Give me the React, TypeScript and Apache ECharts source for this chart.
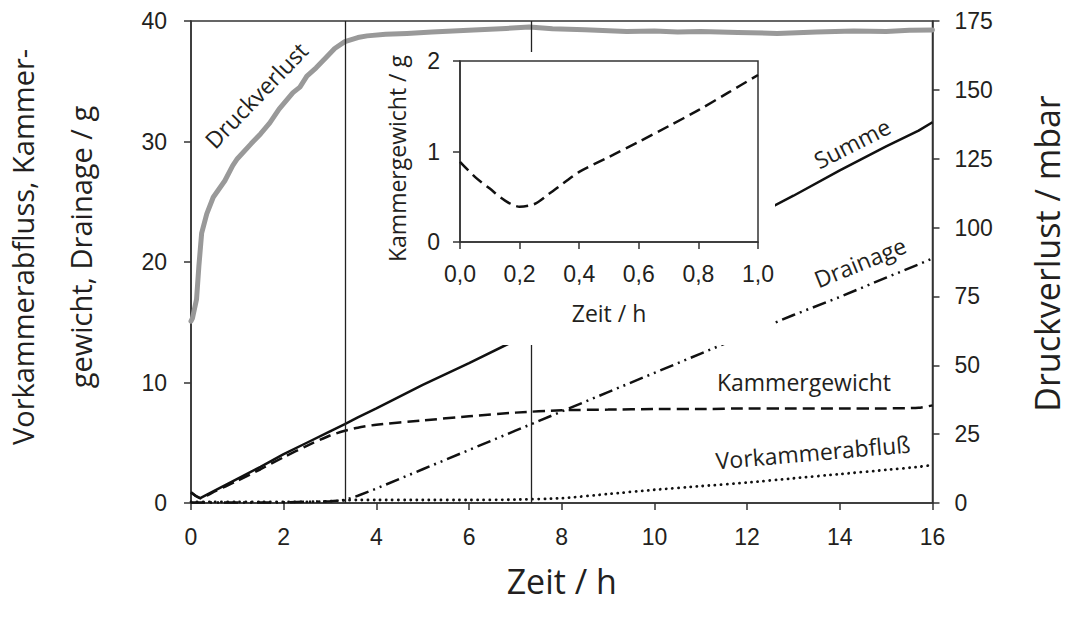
import React, { useEffect, useRef } from "react";
import * as echarts from "echarts";

// ---- data (main chart) ----
const timeMain = [0, 0.1, 0.2, 0.5, 1, 1.5, 2, 2.5, 3, 3.32, 3.6, 4, 5, 6, 7, 8, 9, 10, 11, 12, 13, 14, 15, 15.7, 16];
const summe = [0.9, 0.6, 0.4, 1.0, 2.0, 3.0, 4.05, 5.0, 5.95, 6.55, 7.1, 7.85, 9.8, 11.6, 13.5, 15.5, 17.5, 19.5, 21.5, 23.5, 25.5, 27.6, 29.6, 30.9, 31.6];
const kammergewicht = [0.88, 0.59, 0.39, 0.94, 1.84, 2.8, 3.8, 4.75, 5.6, 6.0, 6.25, 6.5, 6.85, 7.2, 7.5, 7.7, 7.75, 7.8, 7.8, 7.85, 7.85, 7.85, 7.85, 7.9, 8.1];
const drainage = [0.05, 0.05, 0.05, 0.05, 0.05, 0.05, 0.05, 0.1, 0.15, 0.25, 0.6, 1.2, 2.8, 4.4, 6.0, 7.6, 9.2, 10.8, 12.4, 14.0, 15.6, 17.1, 18.7, 19.8, 20.3];
const vorkammerabfluss = [0.1, 0.1, 0.1, 0.1, 0.1, 0.1, 0.1, 0.1, 0.15, 0.22, 0.25, 0.25, 0.25, 0.25, 0.28, 0.4, 0.75, 1.1, 1.4, 1.7, 2.05, 2.4, 2.75, 3.0, 3.15];

const timeDruck = [0, 0.03, 0.12, 0.17, 0.23, 0.34, 0.48, 0.73, 0.9, 1.0, 1.3, 1.5, 1.7, 1.9, 2.05, 2.2, 2.35, 2.5, 2.7, 2.93, 3.1, 3.32, 3.6, 3.8, 4.2, 4.66, 5.2, 6.1, 6.8, 7.3, 7.8, 8.5, 9.4, 10, 10.5, 11, 11.8, 12.65, 13.5, 14.3, 15, 15.5, 16];
const druckverlust = [66, 67, 74, 86, 98, 105, 111, 117, 122.5, 125, 130.5, 134, 138, 143, 146, 149, 151, 155, 158, 162, 165, 167.5, 169, 169.6, 170.2, 170.5, 171, 171.7, 172.3, 172.8, 172.2, 171.8, 171.2, 171.4, 171.0, 171.2, 170.8, 170.5, 171, 171.4, 171.2, 171.6, 171.7];

const markerTimes = [3.32, 7.35];

// ---- data (inset) ----
const timeInset = [0, 0.05, 0.1, 0.15, 0.2, 0.25, 0.3, 0.35, 0.4, 0.5, 0.6, 0.7, 0.8, 0.9, 1.0];
const kammerInset = [0.886, 0.72, 0.59, 0.46, 0.39, 0.42, 0.535, 0.657, 0.775, 0.94, 1.107, 1.28, 1.457, 1.65, 1.845];

const pairs = (xs: number[], ys: number[]) => xs.map((x, i) => [x, ys[i]]);

const TICK_FONT = "'Liberation Sans', Arial, sans-serif";
const TEXT_FONT = "'Open Sans', 'Noto Sans', sans-serif";
const AX = "#333";
const INK = "#231f20";

export default function App() {
  const ref = useRef<HTMLDivElement>(null);
  useEffect(() => {
    if (!ref.current) return;
    const chart = echarts.init(ref.current, undefined, { renderer: "svg" });
    const axisCommon = {
      axisLine: { show: true, lineStyle: { color: AX, width: 1.5 } },
      axisTick: { show: true, inside: false, length: 7, lineStyle: { color: AX, width: 1.5 } },
      splitLine: { show: false },
    };
    const option: any = {
      animation: false,
      backgroundColor: "#fff",
      grid: [
        { left: 191, top: 21, width: 741.5, height: 482, show: true, borderColor: AX, borderWidth: 1.5, backgroundColor: "transparent", containLabel: false, outerBoundsMode: "none" },
        { left: 460, top: 61, width: 298, height: 181, show: true, borderColor: AX, borderWidth: 1.5, backgroundColor: "#fff", zlevel: 1, z: 1, containLabel: false, outerBoundsMode: "none" },
      ],
      xAxis: [
        {
          ...axisCommon,
          type: "value", gridIndex: 0, min: 0, max: 16, interval: 2,
          axisLabel: { fontFamily: TICK_FONT, fontSize: 23, color: INK, margin: 22 },
          name: "Zeit / h", nameLocation: "middle", nameGap: 56,
          nameTextStyle: { fontFamily: TEXT_FONT, fontSize: 34, color: INK, lineHeight: 44 },
        },
        {
          ...axisCommon,
          type: "value", gridIndex: 1, min: 0, max: 1, interval: 0.2, zlevel: 1, z: 2,
          axisLabel: { fontFamily: TICK_FONT, fontSize: 23, color: INK, margin: 20, formatter: (v: number) => v.toFixed(1).replace(".", ",") },
          name: "Zeit / h", nameLocation: "middle", nameGap: 56,
          nameTextStyle: { fontFamily: TEXT_FONT, fontSize: 23, color: INK, lineHeight: 30 },
        },
      ],
      yAxis: [
        {
          ...axisCommon,
          type: "value", gridIndex: 0, position: "left", min: 0, max: 40, interval: 10,
          axisLabel: { fontFamily: TICK_FONT, fontSize: 23, color: INK, margin: 24 },
          name: "Vorkammerabfluss, Kammer-\ngewicht, Drainage / g", nameLocation: "middle", nameRotate: 90, nameGap: 82,
          nameTextStyle: { fontFamily: TEXT_FONT, fontSize: 29, color: INK, lineHeight: 58, padding: [0, 0, 0, 30] },
        },
        {
          ...axisCommon,
          type: "value", gridIndex: 0, position: "right", min: 0, max: 175, interval: 25,
          axisLabel: { fontFamily: TICK_FONT, fontSize: 23, color: INK, margin: 22 },
          name: "Druckverlust / mbar", nameLocation: "middle", nameRotate: 90, nameGap: 92,
          nameTextStyle: { fontFamily: TEXT_FONT, fontSize: 34, color: INK, lineHeight: 44, padding: [0, 0, 0, 17] },
        },
        {
          ...axisCommon,
          type: "value", gridIndex: 1, min: 0, max: 2, interval: 1, zlevel: 1, z: 2,
          axisLabel: { fontFamily: TICK_FONT, fontSize: 23, color: INK, margin: 20 },
          name: "Kammergewicht / g", nameLocation: "middle", nameRotate: 90, nameGap: 48,
          nameTextStyle: { fontFamily: TEXT_FONT, fontSize: 23, color: INK, lineHeight: 30, padding: [0, 14, 0, 0] },
        },
      ],
      graphic: [
        { type: "rect", zlevel: 1, z: 0, shape: { x: 377, y: 52, width: 398, height: 293 }, style: { fill: "#fff" } },
        { type: "text", x: 256, y: 95, rotation: (46 * Math.PI) / 180, style: { text: "Druckverlust", fontFamily: TEXT_FONT, fontSize: 23, fill: INK, align: "center", verticalAlign: "middle" } },
        { type: "text", x: 852, y: 143, rotation: (27 * Math.PI) / 180, style: { text: "Summe", fontFamily: TEXT_FONT, fontSize: 23, fill: INK, align: "center", verticalAlign: "middle" } },
        { type: "text", x: 860, y: 262, rotation: (22 * Math.PI) / 180, style: { text: "Drainage", fontFamily: TEXT_FONT, fontSize: 23, fill: INK, align: "center", verticalAlign: "middle" } },
        { type: "text", x: 804, y: 382, style: { text: "Kammergewicht", fontFamily: TEXT_FONT, fontSize: 23, fill: INK, align: "center", verticalAlign: "middle" } },
        { type: "text", x: 813, y: 452, rotation: (5 * Math.PI) / 180, style: { text: "Vorkammerabfluß", fontFamily: TEXT_FONT, fontSize: 23, fill: INK, align: "center", verticalAlign: "middle" } },
      ],
      series: [
        {
          name: "Druckverlust", type: "line", xAxisIndex: 0, yAxisIndex: 1, showSymbol: false, symbol: "none", smooth: false,
          data: pairs(timeDruck, druckverlust),
          lineStyle: { color: "#999", width: 5, cap: "round", join: "round" },
        },
        {
          name: "Summe", type: "line", xAxisIndex: 0, yAxisIndex: 0, symbol: "none",
          data: pairs(timeMain, summe),
          lineStyle: { color: "#111", width: 2.5 },
          markLine: {
            silent: true, symbol: "none", label: { show: false },
            lineStyle: { color: "#222", width: 1.3, type: "solid" },
            data: markerTimes.map((t) => ({ xAxis: t })),
          },
        },
        {
          name: "Kammergewicht", type: "line", xAxisIndex: 0, yAxisIndex: 0, symbol: "none", smooth: 0.2,
          data: pairs(timeMain, kammergewicht),
          lineStyle: { color: "#111", width: 2.5, type: [12, 6] },
        },
        {
          name: "Drainage", type: "line", xAxisIndex: 0, yAxisIndex: 0, symbol: "none",
          data: pairs(timeMain, drainage),
          lineStyle: { color: "#111", width: 2.5, type: [14, 5, 2, 5, 2, 5] },
        },
        {
          name: "Vorkammerabfluß", type: "line", xAxisIndex: 0, yAxisIndex: 0, symbol: "none", smooth: 0.2,
          data: pairs(timeMain, vorkammerabfluss),
          lineStyle: { color: "#111", width: 2.8, type: [0.1, 6], cap: "round" },
        },
        {
          name: "Kammergewicht (Detail)", type: "line", xAxisIndex: 1, yAxisIndex: 2, symbol: "none", smooth: 0.3,
          zlevel: 1, z: 3,
          data: pairs(timeInset, kammerInset),
          lineStyle: { color: "#111", width: 2.5, type: [12, 6] },
        },
      ],
    };
    chart.setOption(option);
    return () => chart.dispose();
  }, []);
  return <div ref={ref} style={{ position: "absolute", left: 0, top: 0, width: 1068, height: 617 }} />;
}
